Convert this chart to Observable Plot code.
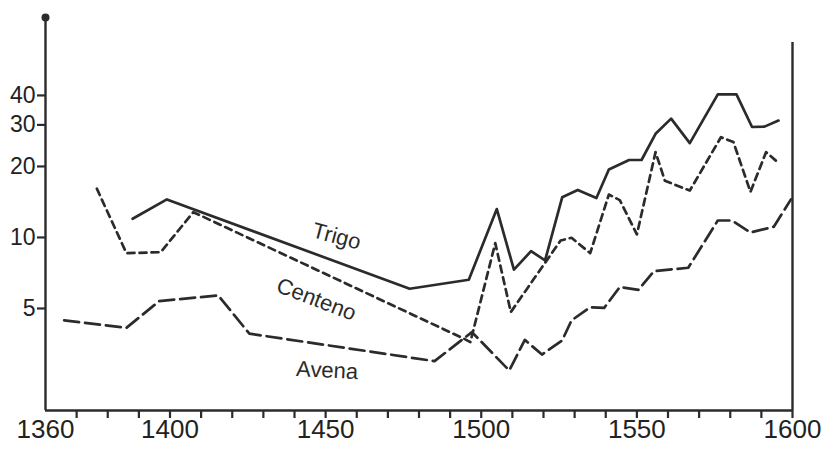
<!DOCTYPE html>
<html>
<head>
<meta charset="utf-8">
<script src="https://cdn.jsdelivr.net/npm/d3@7"></script>
<script src="https://cdn.jsdelivr.net/npm/@observablehq/plot@0.6"></script>
<style>
  html, body { margin: 0; padding: 0; background: #fff; }
</style>
</head>
<body>
<div id="chart"></div>
<script>
// Trigo (solid)
const trigoYears  = [1388, 1399, 1477, 1496, 1505, 1510.5, 1516, 1520.5, 1526, 1531, 1537, 1541, 1547.5, 1551.5, 1556, 1561, 1567, 1576, 1582, 1587, 1591, 1595.5];
const trigoValues = [12.0, 14.5, 6.06, 6.62, 13.2, 7.30, 8.75, 7.99, 14.8, 15.9, 14.7, 19.4, 21.3, 21.3, 27.5, 31.9, 25.1, 40.4, 40.4, 29.4, 29.5, 31.3];

// Centeno (short dashes)
const centenoYears  = [1376.5, 1386, 1397, 1407.5, 1494.5, 1496.5, 1504.5, 1509.5, 1525.5, 1529, 1535, 1541, 1544.5, 1550, 1556, 1559, 1567, 1577, 1581, 1586.5, 1591.5, 1595.5];
const centenoValues = [16.1, 8.58, 8.66, 12.8, 3.72, 3.60, 9.46, 4.83, 9.71, 9.97, 8.58, 15.2, 14.4, 10.3, 23.0, 17.4, 15.8, 26.6, 25.4, 15.6, 23.0, 20.7];

// Avena (long dashes)
const avenaYears  = [1366, 1386, 1396.5, 1415.5, 1425.5, 1485, 1497, 1509, 1514, 1519.5, 1526, 1529, 1535, 1539.5, 1544.5, 1550.5, 1555.5, 1566.5, 1576, 1580.5, 1586.5, 1594, 1599.5];
const avenaValues = [4.45, 4.14, 5.37, 5.68, 3.91, 2.99, 3.97, 2.73, 3.68, 3.19, 3.66, 4.45, 5.06, 5.03, 6.16, 6.00, 7.20, 7.44, 11.8, 11.8, 10.5, 11.1, 14.5];

// Axis ticks and labels
const xTickYears  = [1370, 1380, 1390, 1400, 1410, 1420, 1430, 1440, 1450, 1460, 1470, 1480, 1490, 1500, 1510, 1520, 1530, 1540, 1550, 1560, 1570, 1580, 1590, 1600];
const xLabelYears = [1360, 1400, 1450, 1500, 1550, 1600];
const yTickValues = [5, 10, 20, 30, 40];

// Series labels
const seriesNames   = ["Trigo", "Centeno", "Avena"];
const labelYears    = [1453.5, 1447, 1450.5];
const labelValues   = [10.1, 5.46, 2.73];
const labelRotation = [15, 21, 3];

const xDomain = [1360, 1600];
const yDomain = [1.847, 85.6];
const rightAxisTop = 67;

const toRows = (xs, ys) => xs.map((x, i) => ({year: x, value: ys[i]}));
const trigo = toRows(trigoYears, trigoValues);
const centeno = toRows(centenoYears, centenoValues);
const avena = toRows(avenaYears, avenaValues);
const labels = seriesNames.map((name, i) => ({name, year: labelYears[i], value: labelValues[i], rotate: labelRotation[i]}));

const ink = "#2b2b2b";

const chart = Plot.plot({
  width: 826,
  height: 464,
  marginLeft: 45,
  marginRight: 34,
  marginTop: 17,
  marginBottom: 54,
  style: {background: "white", fontFamily: "'Liberation Sans', Arial, sans-serif", overflow: "visible"},
  x: {domain: xDomain, axis: "bottom", label: null, ticks: xTickYears, tickSize: 8, tickFormat: () => ""},
  y: {type: "log", domain: yDomain, axis: "left", label: null, ticks: yTickValues, tickSize: 8, tickFormat: () => ""},
  marks: [
    // frame: baseline, left axis with dot, right axis
    Plot.ruleY([yDomain[0]], {x1: xDomain[0], x2: xDomain[1], stroke: ink, strokeWidth: 2.4}),
    Plot.ruleX([xDomain[0]], {y1: yDomain[0], y2: yDomain[1], stroke: ink, strokeWidth: 2.4}),
    Plot.dot([{year: xDomain[0], value: yDomain[1]}], {x: "year", y: "value", r: 4, fill: ink}),
    Plot.ruleX([xDomain[1]], {y1: yDomain[0], y2: rightAxisTop, stroke: ink, strokeWidth: 2.4}),
    // tick labels
    Plot.text(xLabelYears, {x: d => d, frameAnchor: "bottom", dy: 27, fontSize: 26, fill: "#222", text: d => String(d)}),
    Plot.text(yTickValues, {y: d => d, frameAnchor: "left", textAnchor: "end", dx: -10, fontSize: 23, fill: "#222", text: d => String(d)}),
    // series
    Plot.line(trigo, {x: "year", y: "value", stroke: ink, strokeWidth: 2.7}),
    Plot.line(centeno, {x: "year", y: "value", stroke: ink, strokeWidth: 2.7, strokeDasharray: "7,5"}),
    Plot.line(avena, {x: "year", y: "value", stroke: ink, strokeWidth: 2.7, strokeDasharray: "15,6"}),
    // series labels
    Plot.text(labels, {x: "year", y: "value", text: "name", rotate: "rotate", fontSize: 22, fill: ink})
  ]
});

// style the axis tick lines
chart.querySelectorAll("[aria-label='x-axis tick'], [aria-label='y-axis tick']").forEach(g => {
  g.setAttribute("stroke", ink);
  g.setAttribute("stroke-width", "2.2");
});
document.getElementById("chart").appendChild(chart);
</script>
</body>
</html>
